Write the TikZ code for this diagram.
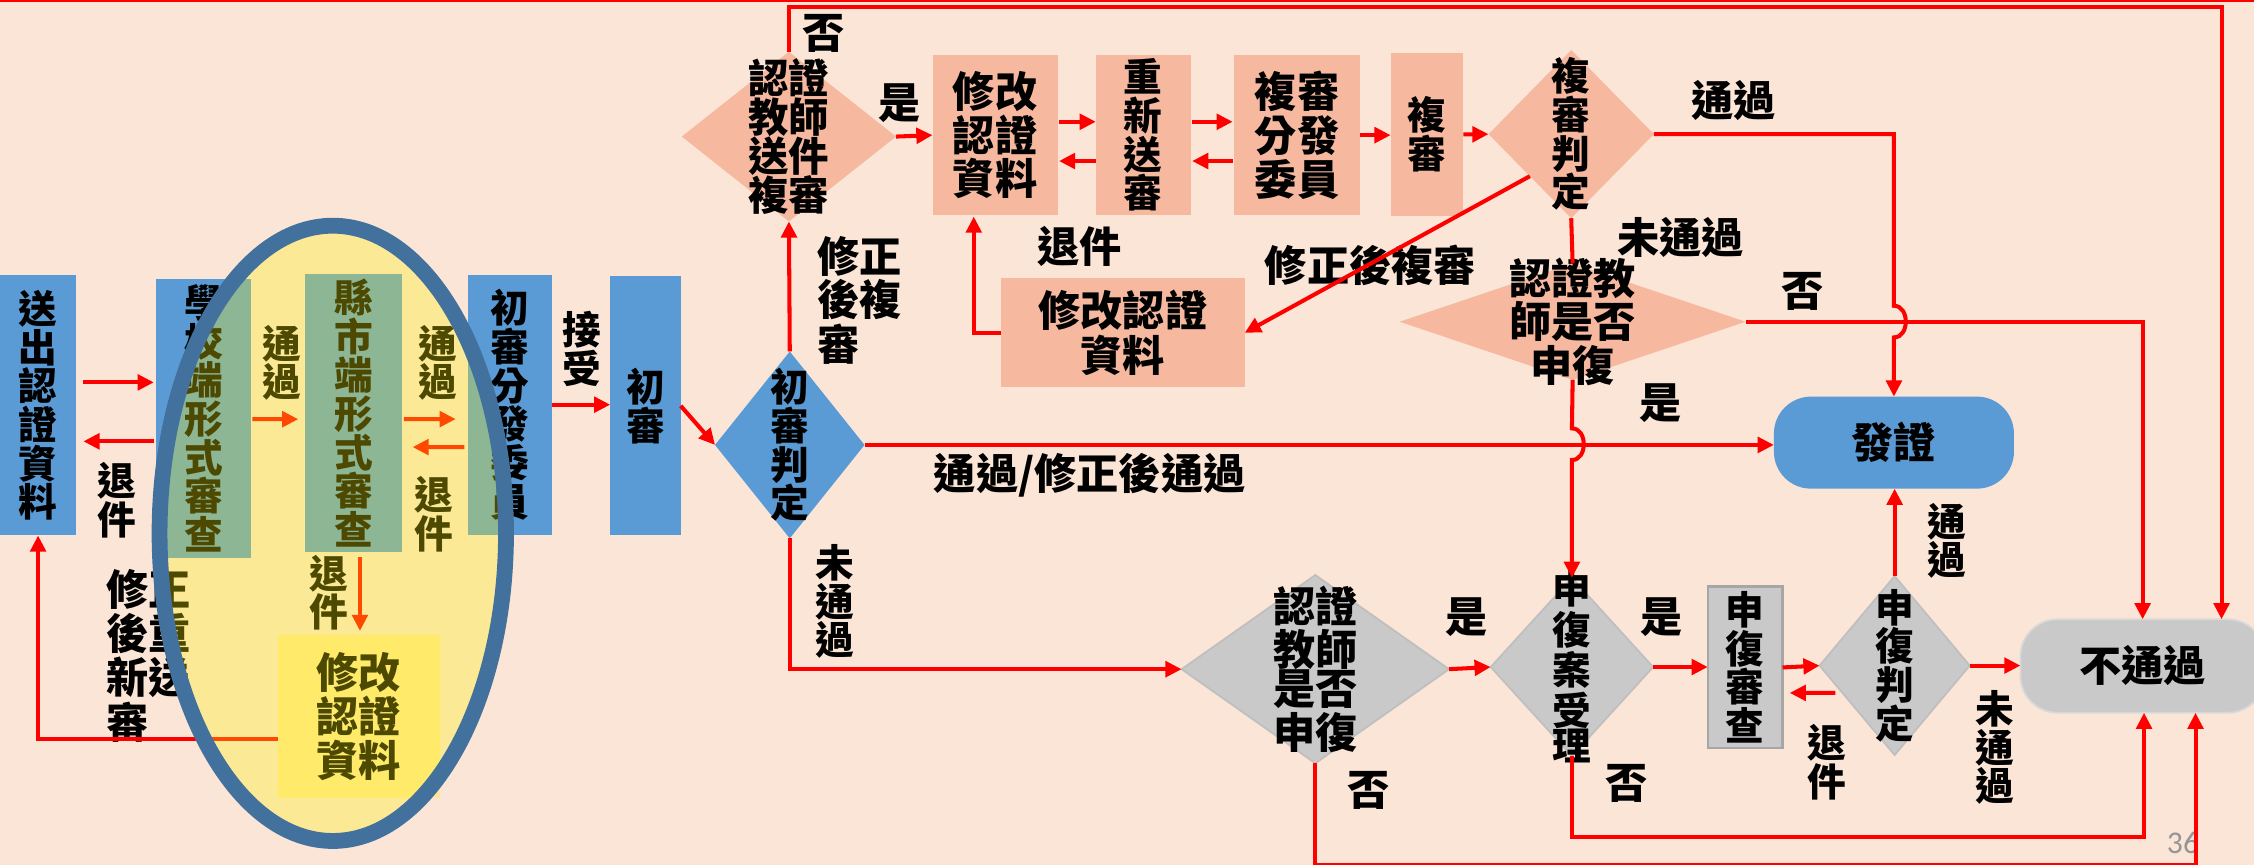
\documentclass[tikz,border=0pt]{standalone}
\usepackage{fontspec}
\setmainfont{Noto Sans CJK TC}
\newfontfamily\pagefont{Carlito}
\usetikzlibrary{arrows.meta, shapes.geometric, calc}

\definecolor{bgpeach}{RGB}{251,229,214}
\definecolor{stepblue}{RGB}{91,155,213}
\definecolor{stepsalmon}{RGB}{246,185,160}
\definecolor{stepgrey}{RGB}{201,201,201}
\definecolor{stepyellow}{RGB}{255,230,153}
\definecolor{ringblue}{RGB}{65,113,156}
\definecolor{hiyellow}{RGB}{255,245,0}
\definecolor{pagegrey}{RGB}{150,150,150}

\begin{document}
\begin{tikzpicture}[
    x=0.014375cm, y=-0.014375cm,
    base/.style={inner sep=0pt, outer sep=0pt, align=center, font=\fontsize{11}{11}\selectfont\bfseries},
    wide/.style={base, font=\fontsize{12}{11.2}\selectfont\bfseries},
    boxsize/.style 2 args={minimum width=#1*0.014375cm, minimum height=#2*0.014375cm},
    box/.style={base, rectangle},
    bluebox/.style={box, fill=stepblue},
    pinkbox/.style={box, fill=stepsalmon},
    greybox/.style={box, fill=stepgrey, draw=black!35, line width=0.6pt},
    yellowbox/.style={box, fill=stepyellow},
    terminal/.style={box, rounded corners=0.37cm},
    decision/.style={base, diamond},
    arrow/.style={-{Triangle[length=4.6pt, width=4.4pt]}, line width=1.15pt, red},
    link/.style={line width=1.15pt, red}
]
    % Sfondo
    \fill[bgpeach] (0,0) rectangle (1568,601.7);
    \useasboundingbox (0,0) rectangle (1568,601.7);
    \draw[red, line width=0.5pt] (0,0.5) -- (1568,0.5);

    % 送件與形式審查
    \node[bluebox, boxsize={53}{181}] (send) at (26.5,282) {送\\出\\認\\證\\資\\料};
    \node[bluebox, boxsize={66}{194}] (school) at (141.6,291) {學\\校\\端\\形\\式\\審\\查};
    \node[bluebox, boxsize={67}{193}] (county) at (246,287.3) {縣\\市\\端\\形\\式\\審\\查};
    \node[bluebox, boxsize={58.5}{181}] (dist1) at (354.8,281.5) {初\\審\\分\\發\\委\\員};
    \node[yellowbox, wide, boxsize={113}{113}] (fix1) at (249.7,498.4) {修改\\認證\\資料};

    \node[base] (back1) at (81,348) {退\\件};
    \node[base] (pass1) at (196,252.3) {通\\過};
    \node[base] (pass2) at (304.5,252.3) {通\\過};
    \node[base] (back2) at (302,357.8) {退\\件};
    \node[base] (back3) at (228.5,412.3) {退\\件};
    \node[wide, anchor=west, align=left] (resendlbl) at (74,456.2) {修正\\後重\\新送\\審};

    \draw[arrow] ($(send.east)+(5,-16)$) -- ($(school.west)+(-1.6,-25)$);
    \draw[arrow] ($(school.west)+(-1.6,16)$) -- ($(send.east)+(5,25)$);
    \draw[arrow] ($(school.east)+(1,0.6)$) -- ($(county.west)+(-5,4.3)$);
    \draw[arrow] ($(county.east)+(1.5,4.3)$) -- ($(dist1.west)+(-8.5,10)$);
    \draw[arrow] ($(dist1.west)+(-2.5,29.5)$) -- ($(county.east)+(7.5,23.7)$);
    \draw[arrow] ($(county.south)+(4.4,4)$) -- ($(fix1.north)+(0.7,-3)$);
    \draw[arrow] ($(fix1.west)+(0,15.6)$) -| (send.south);

    % 縣市端範圍
    \node[ellipse, draw=ringblue, line width=0.158cm, fill=hiyellow, fill opacity=0.3,
          inner sep=0pt, minimum width=241*0.014375cm, minimum height=428*0.014375cm] (ring) at (231.5,371) {};

    % 初審
    \node[base] (acceptlbl) at (404.6,242.8) {接\\受};
    \node[bluebox, boxsize={49}{180}] (first) at (449,282.3) {初\\審};
    \node[decision, fill=stepblue, boxsize={104}{130}, label={[base]center:{初\\審\\判\\定}}] (judge1) at (549.4,309.5) {};

    \draw[arrow] (dist1.east) -- (dist1.east -| first.west);
    \draw[arrow] (first.east) -- (judge1.west);

    % 複審
    \node[decision, fill=stepsalmon, boxsize={149}{118}, label={[base, font=\fontsize{11.5}{11.1}\selectfont\bfseries]center:{認證\\教師\\送件\\複審}}] (resub) at (548.8,95) {};
    \node[pinkbox, wide, boxsize={87}{111.3}] (fix2) at (692.2,94) {修改\\認證\\資料};
    \node[pinkbox, boxsize={66}{111.3}] (resend) at (795.3,94) {重\\新\\送\\審};
    \node[pinkbox, wide, boxsize={87.5}{111.3}] (dist2) at (902.3,94) {複審\\分發\\委員};
    \node[pinkbox, boxsize={50.6}{113}] (second) at (992.7,93.5) {複\\審};
    \node[decision, fill=stepsalmon, boxsize={115}{117}, label={[base]center:{複\\審\\判\\定}}] (judge2) at (1093,93.3) {};
    \node[pinkbox, wide, boxsize={169.3}{76}] (fix3) at (781.2,231.5) {修改認證\\資料};
    \node[decision, fill=stepsalmon, boxsize={240.7}{81}, label={[wide, font=\fontsize{12}{11.3}\selectfont\bfseries]center:{認證教\\師是否\\申復}}] (appeal1) at (1094,223.8) {};
    \node[terminal, wide, fill=stepblue, boxsize={167}{64}] (cert) at (1317.5,307.9) {發證};

    \node[wide] (nolbl1) at (572.7,23) {否};
    \node[wide] (yeslbl1) at (626,72) {是};
    \node[wide] (backlbl4) at (751,171.6) {退件};
    \node[wide] (fixlbl2) at (953.3,184.4) {修正後複審};
    \node[wide, anchor=west, align=left] (fixlbl1) at (568.8,208.7) {修正\\後複\\審};
    \node[wide] (passlbl3) at (1206,69.6) {通過};
    \node[wide] (faillbl1) at (1169,165) {未通過};
    \node[wide] (nolbl2) at (1253.7,203) {否};
    \node[wide] (yeslbl2) at (1155,280.5) {是};
    \node[wide] (passlbl4) at (758,330.4) {通過/修正後通過};
    \node[base] (faillbl2) at (581,418.5) {未\\通\\過};

    \draw[arrow] (judge1.north) -- (resub.south);
    \draw[arrow] (resub.east) -- (fix2.west);
    \draw[arrow] ($(fix2.east)+(1,-9.3)$) -- ($(resend.west)+(0,-9.3)$);
    \draw[arrow] ($(resend.west)+(0,18)$) -- ($(fix2.east)+(1,18)$);
    \draw[arrow] ($(resend.east)+(1,-9.3)$) -- ($(dist2.west)+(-1,-9.3)$);
    \draw[arrow] ($(dist2.west)+(-1,18)$) -- ($(resend.east)+(1,18)$);
    \draw[arrow] (dist2.east) -- (dist2.east -| second.west);
    \draw[arrow] (second.east) -- (judge2.west);
    \draw[arrow] (judge2.east) -| ($(cert.north)+(0,-63.2)$) .. controls +(11,0) and +(11,0) .. ($(cert.north)+(0,-41.2)$) -- (cert.north);
    \draw[link] (judge2.south) -- (appeal1.north);
    \draw[arrow] (judge2.south west) -- (fix3.east);
    \draw[arrow] (fix3.west) -| ($(fix2.south)+(-14.8,1)$);
    \draw[arrow] (judge1.east) -- (judge1.east -| cert.west);

    % 申復
    \node[decision, fill=stepgrey, draw=black!25, line width=0.5pt, boxsize={186}{131}, label={[wide]center:{認證\\教師\\是否\\申復}}] (appeal2) at (915,465.5) {};
    \node[decision, fill=stepgrey, draw=black!25, line width=0.5pt, boxsize={113}{124}, label={[base, font=\fontsize{11}{10}\selectfont\bfseries]center:{申\\復\\案\\受\\理}}] (accept) at (1093.5,464) {};
    \node[greybox, boxsize={52}{112.6}] (review) at (1214,464.3) {申\\復\\審\\查};
    \node[decision, fill=stepgrey, draw=black!25, line width=0.5pt, boxsize={104.5}{124.5}, label={[base]center:{申\\復\\判\\定}}] (judge3) at (1318,463) {};
    \node[terminal, wide, fill=stepgrey, draw=black!15, line width=0.5pt, boxsize={170}{65}] (fail) at (1490.5,463.3) {不通過};

    \node[wide] (yeslbl3) at (1020.4,429) {是};
    \node[wide] (yeslbl4) at (1156,429) {是};
    \node[wide] (nolbl3) at (952,549.6) {否};
    \node[wide] (nolbl4) at (1131.5,545) {否};
    \node[base] (backlbl5) at (1271,530.4) {退\\件};
    \node[base] (passlbl5) at (1354.6,376.3) {通\\過};
    \node[base] (faillbl3) at (1387.7,520) {未\\通\\過};
    \node[font=\pagefont\fontsize{9}{9}\selectfont, text=pagegrey, inner sep=0pt] (pagenum) at (1518.6,586.6) {36};

    \coordinate (topcorner) at (1545.4,5.1);
    \draw[arrow] (resub.north) |- (topcorner) -- (topcorner |- fail.north);
    \draw[arrow] (appeal1.east) -| (fail.north);
    \draw[arrow] (appeal1.south) -- ($(accept.north)+(0,-104)$) .. controls +(11,0) and +(11,0) .. ($(accept.north)+(0,-82)$) -- (accept.north);
    \draw[arrow] (judge1.south) |- (appeal2.west);
    \draw[arrow] (appeal2.east) -- (accept.west);
    \draw[arrow] (accept.east) -- (accept.east -| review.west);
    \draw[arrow] (review.east) -- (judge3.west);
    \draw[arrow] ($(judge3.west)+(11,19)$) -- ($(review.east)+(5,17.7)$);
    \draw[arrow] (judge3.north) -- (judge3.north |- cert.south);
    \draw[arrow] (judge3.east) -- (judge3.east -| fail.west);
    \draw[arrow] (accept.south) |- ($(fail.south)+(1,86.6)$) -- ($(fail.south)+(1,0)$);
    \draw[arrow] (appeal2.south) |- ($(fail.south)+(36.8,106)$) -- ($(fail.south)+(36.8,0)$);
\end{tikzpicture}
\end{document}
